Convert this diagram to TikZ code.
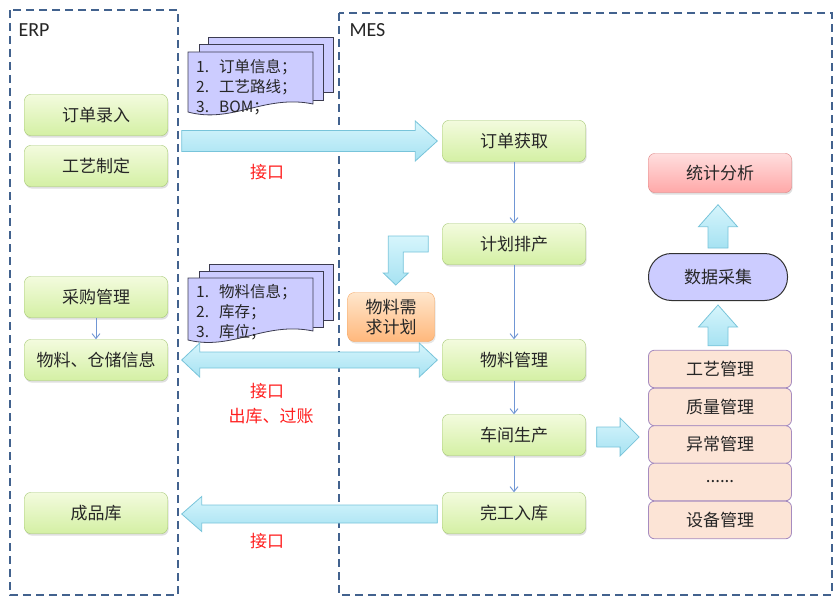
\documentclass[tikz,border=0pt]{standalone}
\usepackage{fontspec}
\setmainfont{Carlito}
\newfontfamily\cjk{Noto Sans CJK SC}
\usetikzlibrary{calc,shadows,arrows.meta}

\definecolor{dashblue}{RGB}{66,98,142}
\definecolor{greentop}{RGB}{243,251,222}
\definecolor{greenbot}{RGB}{212,240,164}
\definecolor{greenline}{RGB}{162,198,112}
\definecolor{arrowtop}{RGB}{214,245,252}
\definecolor{arrowbot}{RGB}{166,226,242}
\definecolor{arrowline}{RGB}{120,196,218}
\definecolor{sheetfill}{RGB}{204,204,255}
\definecolor{sheetline}{RGB}{60,60,80}
\definecolor{mrptop}{RGB}{255,230,204}
\definecolor{mrpbot}{RGB}{255,184,124}
\definecolor{mrpline}{RGB}{245,165,95}
\definecolor{stattop}{RGB}{255,222,222}
\definecolor{statbot}{RGB}{255,168,168}
\definecolor{statline}{RGB}{221,128,128}
\definecolor{peach}{RGB}{252,228,214}
\definecolor{peachline}{RGB}{166,140,192}
\definecolor{flowblue}{RGB}{112,150,212}
\definecolor{textgray}{RGB}{38,38,38}

% fat arrow: from, to, half shaft, half head, head length
\newcommand{\bigarrow}[5]{%
  \coordinate (hb) at ($(#2)!#5!(#1)$);
  \shade[fatarrow] ($(#1)!#3!90:(#2)$) -- ($(hb)!#3!90:(#2)$) -- ($(hb)!#4!90:(#2)$)
    -- (#2) -- ($(hb)!#4!-90:(#2)$) -- ($(hb)!#3!-90:(#2)$) -- ($(#1)!#3!-90:(#2)$) -- cycle;}
% fat arrow with two heads
\newcommand{\bigdoublearrow}[5]{%
  \coordinate (hba) at ($(#1)!#5!(#2)$);
  \coordinate (hbb) at ($(#2)!#5!(#1)$);
  \shade[fatarrow] (#1) -- ($(hba)!#4!90:(#2)$) -- ($(hba)!#3!90:(#2)$) -- ($(hbb)!#3!90:(#2)$)
    -- ($(hbb)!#4!90:(#2)$) -- (#2) -- ($(hbb)!#4!-90:(#2)$) -- ($(hbb)!#3!-90:(#2)$)
    -- ($(hba)!#3!-90:(#2)$) -- ($(hba)!#4!-90:(#2)$) -- cycle;}

\begin{document}
\begin{tikzpicture}[x=1pt,y=-1pt]
\tikzstyle{every node}=[text=textgray,font=\cjk\fontsize{17}{20}\selectfont];
\tikzstyle{dashbox}=[draw=dashblue,line width=2pt,dash pattern=on 8pt off 5pt];
\tikzstyle{greenbox}=[draw=greenline,top color=greentop,bottom color=greenbot,rounded corners=6pt,
  minimum width=143pt,minimum height=41pt,drop shadow={opacity=0.25,shadow xshift=1pt,shadow yshift=-2pt}];
\tikzstyle{fatarrow}=[draw=arrowline,line width=0.8pt,top color=arrowtop,bottom color=arrowbot];
\tikzstyle{sheet}=[draw=sheetline,fill=sheetfill,line width=0.8pt];
\tikzstyle{doctext}=[anchor=north west,align=left,inner sep=0pt,font=\cjk\fontsize{15.5}{20}\selectfont];
\tikzstyle{redlabel}=[text={rgb,255:red,255;green,32;blue,32}];
\tikzstyle{thinarrow}=[draw=flowblue,line width=0.9pt,-{Straight Barb[length=5pt,width=8pt]}];
\tikzstyle{peachbox}=[draw=peachline,fill=peach,rounded corners=6pt,minimum width=143pt,minimum height=37.6pt,line width=0.8pt];
\useasboundingbox (0,0) rectangle (840,607);

% two systems
\draw[dashbox] (10,10) rectangle (178,595);
\draw[dashbox] (339,13) rectangle (832,595);
\node[anchor=west,font=\fontsize{20}{22}\selectfont] (erp) at (15,30) {ERP};
\node[anchor=west,font=\fontsize{20}{22}\selectfont] (mes) at (346,30) {MES};

% ERP side
\node[greenbox] (orderin) at (96,115) {订单录入};
\node[greenbox] (craft) at (96,166) {工艺制定};
\node[greenbox] (purchase) at (96,297) {采购管理};
\node[greenbox] (stockinfo) at (96,360) {物料、仓储信息};
\node[greenbox] (product) at (96,513) {成品库};
\draw[thinarrow] (purchase.south) -- (stockinfo.north);

% MES flow
\node[greenbox] (getorder) at (514,141) {订单获取};
\node[greenbox] (plan) at (514,244) {计划排产};
\node[greenbox] (material) at (514,360) {物料管理};
\node[greenbox] (workshop) at (514,435) {车间生产};
\node[greenbox] (finish) at (514,513) {完工入库};
\draw[thinarrow] (getorder.south) -- (plan.north);
\draw[thinarrow] (plan.south) -- (material.north);
\draw[thinarrow] (material.south) -- (workshop.north);
\draw[thinarrow] (workshop.south) -- (finish.north);

\node[draw=mrpline,top color=mrptop,bottom color=mrpbot,rounded corners=7pt,minimum width=87pt,
  minimum height=49pt,align=center,inner sep=0pt,drop shadow={opacity=0.2,shadow xshift=1pt,shadow yshift=-2pt}]
  (mrp) at (391,317) {物料需\\求计划};

% right column
\node[draw=statline,top color=stattop,bottom color=statbot,rounded corners=6pt,minimum width=143pt,
  minimum height=39pt,drop shadow={opacity=0.25,shadow xshift=1pt,shadow yshift=-2pt}] (stats) at (720,173) {统计分析};
\node[draw={rgb,255:red,50;green,50;blue,50},fill=sheetfill,rounded corners=23pt,minimum width=139pt,
  minimum height=47pt,line width=1pt] (collect) at (718,277) {数据采集};
\node[peachbox] (proc) at (720,369) {工艺管理};
\node[peachbox] (quality) at (720,407) {质量管理};
\node[peachbox] (abnormal) at (720,444.5) {异常管理};
\node[peachbox] (more) at (720,482) {......};
\node[peachbox] (device) at (720,520) {设备管理};

% documents passed over the interface
\draw[sheet] (208,37) rectangle (333,92);
\draw[sheet] (199,44) rectangle (323,100);
\draw[sheet] (188,52) -- (313,52) -- (313,104) .. controls (265,94) and (232,124) .. (188,112) -- cycle;
\node[doctext] (docA) at (196,59) {1.\hspace{10pt}订单信息；\\2.\hspace{10pt}工艺路线；\\3.\hspace{10pt}BOM；};
\draw[sheet] (209,264) rectangle (333,320);
\draw[sheet] (199,271) rectangle (323,327);
\draw[sheet] (188,278) -- (313,278) -- (313,331) .. controls (265,321) and (232,351) .. (188,340) -- cycle;
\node[doctext] (docB) at (196,284.5) {1.\hspace{10pt}物料信息；\\2.\hspace{10pt}库存；\\3.\hspace{10pt}库位；};

% interface arrows
\coordinate (ordtip) at ($(getorder.west)+(-5,0)$);
\coordinate (ordtail) at ($(orderin.east |- getorder.west)+(14,0)$);
\bigarrow{ordtail}{ordtip}{10.5pt}{20pt}{22pt}
\coordinate (matleft) at ($(stockinfo.east)+(14,0)$);
\coordinate (matright) at ($(material.west)+(-5,0)$);
\bigdoublearrow{matleft}{matright}{8pt}{17pt}{18pt}
\coordinate (fintail) at ($(finish.west)+(-5,1)$);
\coordinate (fintip) at ($(product.east)+(14,1)$);
\bigarrow{fintail}{fintip}{9pt}{17.5pt}{20pt}
\coordinate (wstail) at ($(workshop.east)+(11,2)$);
\coordinate (wstip) at ($(proc.west |- workshop.east)+(-9,2)$);
\bigarrow{wstail}{wstip}{10pt}{19pt}{19pt}
\coordinate (uptail) at ($(collect.north)+(0,-5)$);
\coordinate (uptip) at ($(stats.south)+(-2,12)$);
\bigarrow{uptail}{uptip}{10pt}{19.5pt}{22pt}
\coordinate (uptailb) at ($(proc.north)+(-2,-4)$);
\coordinate (uptipb) at ($(collect.south)+(0,4)$);
\bigarrow{uptailb}{uptipb}{10pt}{19.5pt}{22pt}

% plan -> mrp bent arrow
\coordinate (bend) at ($(plan.west)+(-14,-8)$);
\shade[fatarrow] (bend) -- ++(-40,0) -- ++(0,37) -- ++(-5,0) -- ++(12.5,12) -- ++(12.5,-12)
  -- ++(-5,0) -- ++(0,-21) -- ++(25,0) -- cycle;

% red labels
\node[redlabel] (ifa) at (267,172) {接口};
\node[redlabel] (ifb) at (267,391) {接口};
\node[redlabel] (post) at (271,416) {出库、过账};
\node[redlabel] (ifc) at (267,541) {接口};
\end{tikzpicture}
\end{document}
